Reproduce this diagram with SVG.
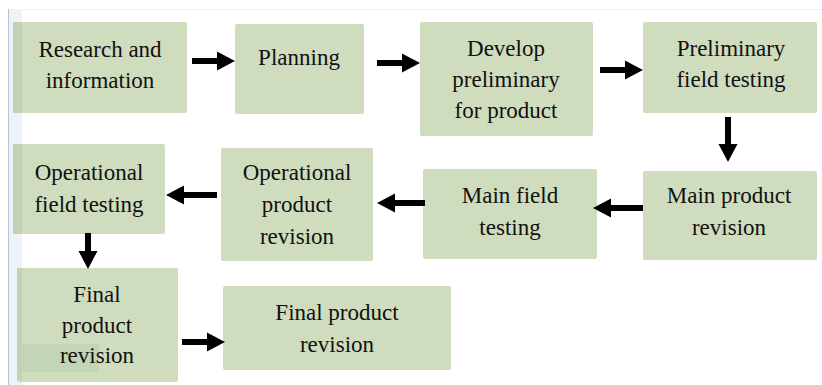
<svg xmlns="http://www.w3.org/2000/svg" width="822" height="385" viewBox="0 0 822 385">
  <style>
    .box { fill: #cfdcbd; }
    .shade { fill: #c3d2b6; }
    .lbl { font-family: "Liberation Serif", "Times New Roman", serif; font-size: 23px; fill: #111; text-anchor: middle; }
    .con { stroke: #000; stroke-width: 6; fill: none; }
  </style>
  <defs>
    <marker id="head" markerUnits="userSpaceOnUse" markerWidth="20" markerHeight="20" viewBox="0 -10 20 20" refX="0" refY="0" orient="auto">
      <path d="M0,-9.5 L18,0 L0,9.5 Z" fill="#000"/>
    </marker>
  </defs>

  <!-- page background and left margin strip -->
  <rect x="0" y="0" width="822" height="385" fill="#ffffff"/>
  <line x1="8" y1="9.5" x2="822" y2="9.5" stroke="#efefef" stroke-width="1"/>
  <rect x="9" y="9" width="13" height="376" fill="#eef2f9"/>
  <line x1="8.5" y1="9" x2="8.5" y2="385" stroke="#b9c3d6" stroke-width="1"/>

  <g id="n1">
    <rect class="box" x="13" y="22" width="174" height="91" rx="2"/>
    <rect class="shade" x="13" y="22" width="9" height="91"/>
    <text class="lbl" x="100" y="57">Research and</text>
    <text class="lbl" x="100" y="88">information</text>
  </g>
  <g id="n2">
    <rect class="box" x="235" y="24" width="129" height="90" rx="2"/>
    <text class="lbl" x="299" y="65">Planning</text>
  </g>
  <g id="n3">
    <rect class="box" x="420" y="22" width="173" height="114" rx="2"/>
    <text class="lbl" x="506" y="56">Develop</text>
    <text class="lbl" x="506" y="87">preliminary</text>
    <text class="lbl" x="506" y="118">for product</text>
  </g>
  <g id="n4">
    <rect class="box" x="643" y="22" width="174" height="91" rx="2"/>
    <text class="lbl" x="731" y="56">Preliminary</text>
    <text class="lbl" x="731" y="87">field testing</text>
  </g>
  <g id="n5">
    <rect class="box" x="643" y="171" width="174" height="89" rx="2"/>
    <text class="lbl" x="729" y="203">Main product</text>
    <text class="lbl" x="729" y="235">revision</text>
  </g>
  <g id="n6">
    <rect class="box" x="423" y="169" width="174" height="90" rx="2"/>
    <text class="lbl" x="510" y="203">Main field</text>
    <text class="lbl" x="510" y="235">testing</text>
  </g>
  <g id="n7">
    <rect class="box" x="221" y="148" width="152" height="113" rx="2"/>
    <text class="lbl" x="297" y="180">Operational</text>
    <text class="lbl" x="297" y="212">product</text>
    <text class="lbl" x="297" y="244">revision</text>
  </g>
  <g id="n8">
    <rect class="box" x="13" y="144" width="152" height="90" rx="2"/>
    <rect class="shade" x="13" y="144" width="9" height="90"/>
    <text class="lbl" x="89" y="180">Operational</text>
    <text class="lbl" x="89" y="212">field testing</text>
  </g>
  <g id="n9">
    <rect class="box" x="17" y="268" width="161" height="114" rx="2"/>
    <rect class="shade" x="17" y="268" width="5" height="112"/>
    <rect x="22" y="344" width="77" height="28" fill="#c4d4b6"/>
    <text class="lbl" x="97" y="302">Final</text>
    <text class="lbl" x="97" y="333">product</text>
    <text class="lbl" x="97" y="363">revision</text>
  </g>
  <g id="n10">
    <rect class="box" x="223" y="286" width="228" height="84" rx="2"/>
    <text class="lbl" x="337" y="320">Final product</text>
    <text class="lbl" x="337" y="352">revision</text>
  </g>

  <g id="connectors">
    <line class="con" x1="192" y1="61" x2="217" y2="61" marker-end="url(#head)"/>
    <line class="con" x1="377" y1="63" x2="402" y2="63" marker-end="url(#head)"/>
    <line class="con" x1="600" y1="70" x2="625" y2="70" marker-end="url(#head)"/>
    <line class="con" x1="728" y1="117" x2="728" y2="144" marker-end="url(#head)"/>
    <line class="con" x1="643" y1="208" x2="611" y2="208" marker-end="url(#head)"/>
    <line class="con" x1="425" y1="203" x2="395" y2="203" marker-end="url(#head)"/>
    <line class="con" x1="217" y1="195" x2="184" y2="195" marker-end="url(#head)"/>
    <line class="con" x1="88" y1="233" x2="88" y2="251" marker-end="url(#head)"/>
    <line class="con" x1="182" y1="342" x2="207" y2="342" marker-end="url(#head)"/>
  </g>
</svg>
